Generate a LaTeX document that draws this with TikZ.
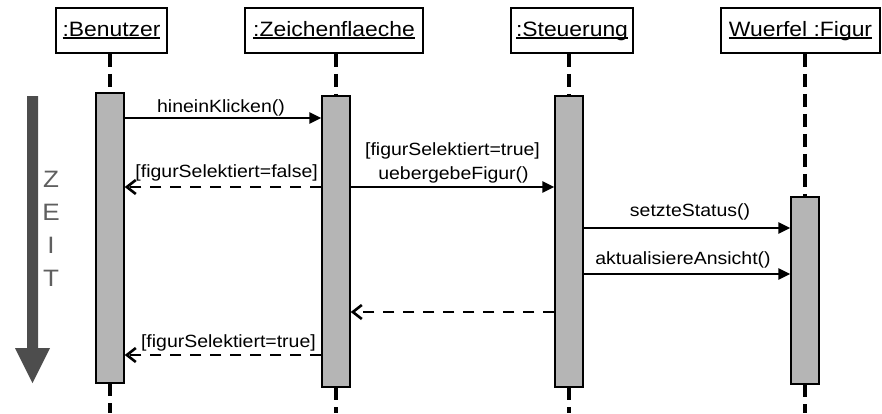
\documentclass[tikz,border=0pt]{standalone}
\usepackage{fontspec}
\setmainfont{Liberation Sans}[FakeStretch=1.1]
\usetikzlibrary{arrows.meta}
\definecolor{actgray}{HTML}{B5B5B5}
\definecolor{zgray}{HTML}{4D4D4D}
\definecolor{lgray}{HTML}{5F5F5F}
\newcommand{\hfont}{\fontsize{20.8}{24}\selectfont}
\newcommand{\mfont}{\fontsize{17.7}{21}\selectfont}
\newcommand{\zfont}{\fontsize{23.7}{28}\selectfont}
\newcommand{\uln}[1]{\setbox0\hbox{#1}\rlap{\rule[-2.6pt]{\wd0}{1.3pt}}\box0}
\begin{document}
\begin{tikzpicture}[x=1pt,y=-1pt,
  head/.style={draw, line width=1.6pt, fill=white, minimum height=45, inner sep=0pt, font=\hfont, text height=14, text depth=3},
  act/.style={draw, line width=1.4pt, fill=actgray, minimum width=28, inner sep=0pt},
  life/.style={line width=3.4pt, dash pattern=on 13pt off 7pt},
  msg/.style={line width=2.6pt, -{Triangle[length=12pt,width=11pt]}},
  ret/.style={line width=2.6pt, dash pattern=on 11pt off 9pt, -{Straight Barb[length=9pt,width=14pt]}},
  lbl/.style={font=\mfont, inner sep=0pt, anchor=base},
  zl/.style={font=\zfont, text=lgray, inner sep=0pt, anchor=base}
]
\path[use as bounding box] (0,0) rectangle (882,413);
% time arrow
\fill[zgray] (27,96) -- (38,96) -- (38,348) -- (50,348) -- (32.5,383) -- (15,348) -- (27,348) -- cycle;
\node[zl] (z1) at (51,187) {Z};
\node[zl] (z2) at (51,220) {E};
\node[zl] (z3) at (51,253) {I};
\node[zl] (z4) at (51,286) {T};
% heads
\node[head, minimum width=111] (hB) at (111.5,30.5) {\uln{:Benutzer}};
\node[head, minimum width=178] (hZ) at (334,30.5) {\uln{:Zeichenflaeche}};
\node[head, minimum width=122] (hS) at (572,30.5) {\uln{:Steuerung}};
\node[head, minimum width=159] (hW) at (800.5,30.5) {\uln{Wuerfel :Figur}};
% coordinates
\coordinate (bot) at (0,413);
\coordinate (m1) at (0,118);
\coordinate (m2) at (0,187);
\coordinate (m3) at (0,187);
\coordinate (m4) at (0,228);
\coordinate (m5) at (0,274);
\coordinate (m6) at (0,312);
\coordinate (m7) at (0,355);
% activation ends (for lifeline geometry)
\path (110,93) coordinate (tB) (110,383) coordinate (bB)
      (336,96) coordinate (tZ) (336,387) coordinate (bZ)
      (569,96) coordinate (tS) (569,387) coordinate (bS)
      (805,197) coordinate (tW) (805,384) coordinate (bW);
% lifelines
\draw[life] (tB |- hB.south) -- (tB);
\draw[life] (bB) -- (bB |- bot);
\draw[life] (tZ |- hZ.south) -- (tZ);
\draw[life] (bZ) -- (bZ |- bot);
\draw[life] (tS |- hS.south) -- (tS);
\draw[life] (bS) -- (bS |- bot);
\draw[life] (tW |- hW.south) -- (tW);
\draw[life] (bW) -- (bW |- bot);
% activations
\node[act, minimum height=290] (aB) at (110,238) {};
\node[act, minimum height=291] (aZ) at (336,241.5) {};
\node[act, minimum height=291] (aS) at (569,241.5) {};
\node[act, minimum height=187] (aW) at (805,290.5) {};
% messages
\draw[msg] (aB.east |- m1) -- (aZ.west |- m1);
\node[lbl] (l1) at (221,112.5) {hineinKlicken()};
\draw[ret] (aZ.west |- m2) -- (aB.east |- m2);
\node[lbl, anchor=base east] (l2) at (318,177.3) {[figurSelektiert=false]};
\draw[msg] (aZ.east |- m3) -- (aS.west |- m3);
\node[lbl] (l3a) at (452.5,155.5) {[figurSelektiert=true]};
\node[lbl] (l3b) at (453.5,179.5) {uebergebeFigur()};
\draw[msg] (aS.east |- m4) -- (aW.west |- m4);
\node[lbl] (l4) at (690,216.7) {setzteStatus()};
\draw[msg] (aS.east |- m5) -- (aW.west |- m5);
\node[lbl] (l5) at (683,264) {aktualisiereAnsicht()};
\draw[ret] (aS.west |- m6) -- (aZ.east |- m6);
\draw[ret] (aZ.west |- m7) -- (aB.east |- m7);
\node[lbl, anchor=base east] (l7) at (316,347) {[figurSelektiert=true]};
\end{tikzpicture}
\end{document}
